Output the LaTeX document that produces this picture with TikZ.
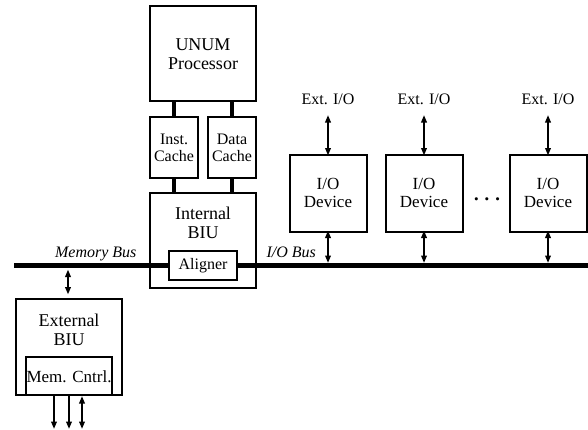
\documentclass[tikz,border=0pt]{standalone}
\usepackage{fontspec}
\setmainfont{Liberation Serif}
\usetikzlibrary{arrows.meta}
\tikzset{
  blk/.style={draw, line width=2pt, inner sep=0pt},
  big/.style={font=\fontsize{18}{20}\selectfont, align=center},
  mid/.style={font=\fontsize{17}{19}\selectfont, align=center},
  sml/.style={font=\fontsize{16}{18}\selectfont, align=center},
  thk/.style={line width=4.2pt},
  busline/.style={line width=4.5pt},
  dbl/.style={line width=1.9pt, {Triangle[length=7.5pt,width=5.5pt]}-{Triangle[length=7.5pt,width=5.5pt]}},
  dn/.style={line width=1.9pt, -{Triangle[length=7.5pt,width=5.5pt]}},
}
\begin{document}
\begin{tikzpicture}[x=1pt,y=-1pt]
\useasboundingbox (0,0) rectangle (588,429);
% boxes
\draw[blk] (150,6) rectangle (256,101);
\node[big] (proc) at (203,54) {UNUM\\[-1pt]Processor};
\draw[blk] (150,117) rectangle (198,178);
\node[sml] (ic) at (174,147.5) {Inst.\\[-1pt]Cache};
\draw[blk] (208,117) rectangle (256,178);
\node[sml] (dc) at (232,147.5) {Data\\[-1pt]Cache};
\draw[blk] (150,193) rectangle (256,288);
\node[big] (ibiu) at (203,223) {Internal\\[-1pt]BIU};
\node[blk, sml, minimum width=68pt, minimum height=29pt] (al) at (203,265.5) {Aligner};
% connectors proc-cache-biu
\coordinate (p1) at (174,101); \coordinate (c1t) at (174,117);
\coordinate (p2) at (232,101); \coordinate (c2t) at (232,117);
\coordinate (c1b) at (174,178); \coordinate (b1) at (174,193);
\coordinate (c2b) at (232,178); \coordinate (b2) at (232,193);
\draw[thk] (p1) -- (c1t); \draw[thk] (p2) -- (c2t);
\draw[thk] (c1b) -- (b1); \draw[thk] (c2b) -- (b2);
% bus
\coordinate (busL) at (14,265.5);
\coordinate (busR) at (588,265.5);
\draw[busline] (busL) -- (al.west);
\draw[busline] (al.east) -- (busR);
\node[sml, anchor=base east, font=\fontsize{16}{18}\selectfont\itshape] (mb) at (140,257) {Memory Bus};
\node[sml, anchor=base west, font=\fontsize{16}{18}\selectfont\itshape] (iob) at (263,257) {I/O Bus};
% external BIU
\draw[blk] (16,299) rectangle (122,395);
\node[big] (ebiu) at (69,330) {External\\[-1pt]BIU};
\draw[blk] (26,395) -- (26,357) -- (112,357) -- (112,395);
\node[mid] (mc) at (69,377) {Mem. Cntrl.};
\coordinate (eb1) at (68,269.5); \coordinate (eb2) at (68,294.5);
\draw[dbl] (eb1) -- (eb2);
\coordinate (m1) at (54,396); \coordinate (m1b) at (54,429);
\coordinate (m2) at (69,396); \coordinate (m2b) at (69,429);
\coordinate (m3) at (82,396); \coordinate (m3b) at (82,429);
\draw[dn] (m1) -- (m1b);
\draw[dn] (m2) -- (m2b);
\draw[dbl] (m3) -- (m3b);
% I/O devices
\foreach \n/\x in {1/328, 2/424, 3/548}{
  \node[blk, mid, minimum width=77pt, minimum height=77pt] (d\n) at (\x,193) {I/O\\[-1pt]Device};
  \node[sml, anchor=base] (e\n) at (\x,104) {Ext. I/O};
  \coordinate (t\n) at (\x,115);
  \coordinate (bb\n) at (\x,263);
  \draw[dbl] (t\n) -- ([yshift=-2pt]d\n.north);
  \draw[dbl] ([yshift=2pt]d\n.south) -- (bb\n);
}
\node[font=\fontsize{20}{20}\selectfont\boldmath] (dots) at (487,200) {$\cdots$};
\end{tikzpicture}
\end{document}
